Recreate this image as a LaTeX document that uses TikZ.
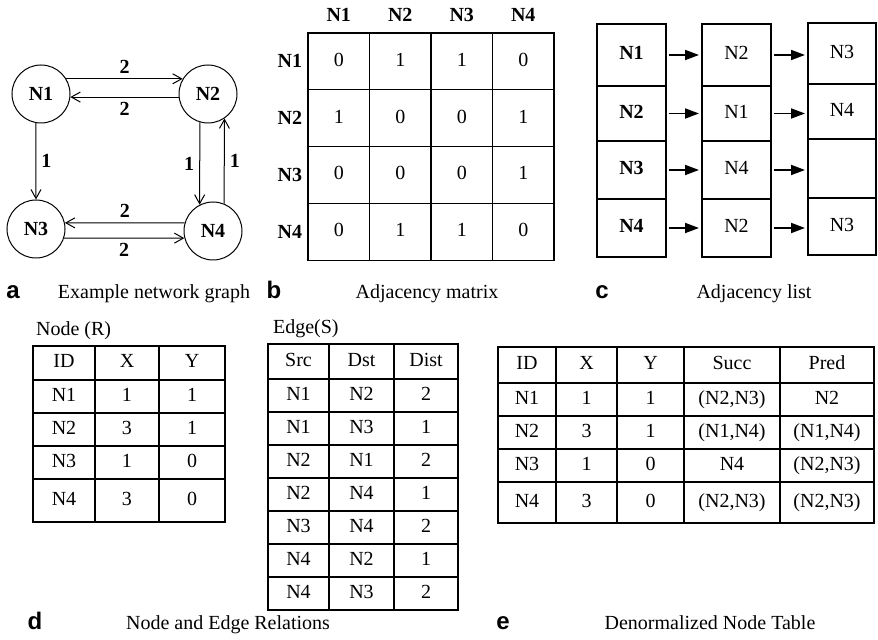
\documentclass[tikz,border=0pt]{standalone}
\usepackage{fontspec}
\setmainfont{Liberation Serif}
\newfontfamily\panelfont{Liberation Sans}
\usetikzlibrary{arrows.meta,positioning,matrix}

\begin{document}
\begin{tikzpicture}[x=0.5pt, y=-0.5pt,
    vertex/.style={circle, draw, line width=0.5pt, minimum size=29pt, inner sep=0pt, font=\bfseries},
    wedge/.style={-{Straight Barb[length=4.5pt,width=5pt]}, line width=0.5pt},
    wlabel/.style={font=\bfseries, inner sep=2.5pt},
    cell/.style={draw, line width=0.6pt, inner sep=0pt, text height=7pt, text depth=2pt},
    tbl/.style={matrix of nodes, inner sep=0pt, anchor=north west,
                row sep=-0.6pt, column sep=-0.6pt, nodes={cell, minimum height=16.5pt}},
    hdr/.style={font=\bfseries, inner sep=1pt},
    link/.style={-{Triangle[length=7pt,width=5pt]}, line width=0.9pt, shorten <=1pt, shorten >=1.2pt},
    panel/.style={font=\panelfont\bfseries\large, anchor=base},
    captext/.style={anchor=base}
  ]
  \useasboundingbox (0,0) rectangle (878,640);

  % (a) example network graph
  \node[vertex] (N1) at ( 41, 94) {N1};
  \node[vertex] (N2) at (208, 94) {N2};
  \node[vertex] (N3) at ( 36,229) {N3};
  \node[vertex] (N4) at (213,231) {N4};
  \draw[wedge] (N1.31)  -- node[wlabel, above] (w12) {2} (N2.149);
  \draw[wedge] (N2.186) -- node[wlabel, below] (w21) {2} (N1.-6);
  \draw[wedge] (N1.260) -- node[wlabel, right] (w13) {1} (N3.90);
  \draw[wedge] (N2.254) -- node[wlabel, left]  (w24) {1} (N4.117);
  \draw[wedge] (N4.68)  -- node[wlabel, right] (w42) {1} (N2.-56);
  \draw[wedge] (N4.164) -- node[wlabel, above] (w43) {2} (N3.12);
  \draw[wedge] (N3.-18) -- node[wlabel, below] (w34) {2} (N4.194);

  % (b) adjacency matrix
  \matrix (am) [tbl, nodes={minimum width=30.75pt, minimum height=28.4pt}] at (307,32) {
    0 & 1 & 1 & 0 \\
    1 & 0 & 0 & 1 \\
    0 & 0 & 0 & 1 \\
    0 & 1 & 1 & 0 \\
  };
  \coordinate (hrow) at (0,15);
  \foreach \n [count=\i] in {N1,N2,N3,N4} {
    \node[hdr] (ch\i) at (am-1-\i |- hrow) {\n};
    \node[hdr, left=1.5pt of am-\i-1] (rh\i) {\n};
  }

  % (c) adjacency list
  \matrix (l1) [tbl, nodes={minimum width=34.5pt, font=\bfseries},
      row 1/.style={nodes={minimum height=31pt}}, row 2/.style={nodes={minimum height=27.5pt}},
      row 3/.style={nodes={minimum height=29pt}}, row 4/.style={nodes={minimum height=29pt}}]
      at (596,23) {N1\\ N2\\ N3\\ N4\\};
  \matrix (l2) [tbl, nodes={minimum width=34.5pt},
      row 1/.style={nodes={minimum height=31pt}}, row 2/.style={nodes={minimum height=27.5pt}},
      row 3/.style={nodes={minimum height=29pt}}, row 4/.style={nodes={minimum height=29pt}}]
      at (701,23) {N2\\ N1\\ N4\\ N2\\};
  \matrix (l3) [tbl, nodes in empty cells, nodes={minimum width=34pt},
      row 1/.style={nodes={minimum height=30.5pt}}, row 2/.style={nodes={minimum height=27.5pt}},
      row 3/.style={nodes={minimum height=29.5pt}}, row 4/.style={nodes={minimum height=28.5pt}}]
      at (807,22) {N3\\ N4\\ \\ N3\\};
  \foreach \i in {1,...,4} {
    \draw[link] (l1-\i-1.east) -- (l2-\i-1.west);
    \draw[link] (l2-\i-1.east) -- (l2-\i-1.east -| l3-\i-1.west);
  }

  % captions, first row
  \node[panel]   (pa) at ( 13,299) {a};
  \node[captext] (ta) at (154,299) {Example network graph};
  \node[panel]   (pb) at (274,299) {b};
  \node[captext] (tb) at (427,299) {Adjacency matrix};
  \node[panel]   (pc) at (602,299) {c};
  \node[captext] (tc) at (754,299) {Adjacency list};

  % (d) node and edge relations
  \node[captext, anchor=base west] (tn) at (29,336) {Node (R)};
  \matrix (nr) [tbl, row 1/.style={nodes={minimum height=17pt}}, row 5/.style={nodes={minimum height=21.5pt}},
      column 1/.style={nodes={minimum width=31pt}}, column 2/.style={nodes={minimum width=32pt}},
      column 3/.style={nodes={minimum width=33pt}}] at (32,345) {
    ID & X & Y \\
    N1 & 1 & 1 \\
    N2 & 3 & 1 \\
    N3 & 1 & 0 \\
    N4 & 3 & 0 \\
  };
  \node[captext, anchor=base west] (te) at (266,334) {Edge(S)};
  \matrix (er) [tbl, row 1/.style={nodes={minimum height=17.5pt}},
      column 1/.style={nodes={minimum width=30.5pt}}, column 2/.style={nodes={minimum width=32.5pt}},
      column 3/.style={nodes={minimum width=32pt}}] at (267,343) {
    Src & Dst & Dist \\
    N1 & N2 & 2 \\
    N1 & N3 & 1 \\
    N2 & N1 & 2 \\
    N2 & N4 & 1 \\
    N3 & N4 & 2 \\
    N4 & N2 & 1 \\
    N4 & N3 & 2 \\
  };

  % (e) denormalized node table
  \matrix (dn) [tbl, row 1/.style={nodes={minimum height=18pt}}, row 5/.style={nodes={minimum height=20.5pt}},
      column 1/.style={nodes={minimum width=29pt}}, column 2/.style={nodes={minimum width=30.5pt}},
      column 3/.style={nodes={minimum width=33.5pt}}, column 4/.style={nodes={minimum width=48pt}},
      column 5/.style={nodes={minimum width=47pt}}] at (497,346) {
    ID & X & Y & Succ & Pred \\
    N1 & 1 & 1 & (N2,N3) & N2 \\
    N2 & 3 & 1 & (N1,N4) & (N1,N4) \\
    N3 & 1 & 0 & N4 & (N2,N3) \\
    N4 & 3 & 0 & (N2,N3) & (N2,N3) \\
  };

  % captions, second row
  \node[panel]   (pd) at ( 35,630) {d};
  \node[captext] (td) at (228,630) {Node and Edge Relations};
  \node[panel]   (pe) at (503,630) {e};
  \node[captext] (tt) at (710,630) {Denormalized Node Table};
\end{tikzpicture}
\end{document}
